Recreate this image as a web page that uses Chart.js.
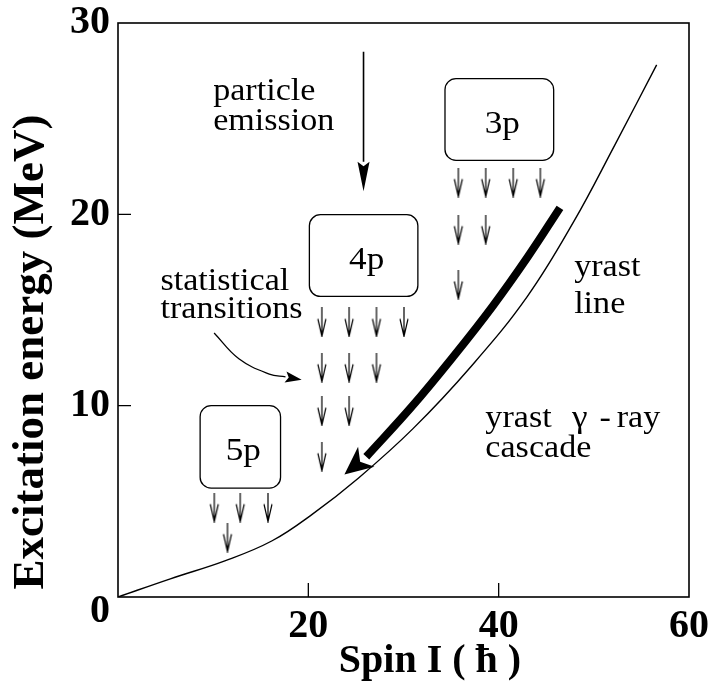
<!DOCTYPE html>
<html>
<head>
<meta charset="utf-8">
<script src="https://cdn.jsdelivr.net/npm/chart.js@4.4.1/dist/chart.umd.min.js"></script>
<style>
  html, body { margin: 0; padding: 0; background: #fff; }
  #wrap { width: 715px; height: 691px; }
</style>
</head>
<body>
<div id="wrap"><canvas id="c" width="715" height="691"></canvas></div>
<script>
// Axis ranges and ticks
const spinTicks = [0, 20, 40, 60];
const energyTicks = [0, 10, 20, 30];
const xTitle = 'Spin I ( \u0127 )';
const yTitle = 'Excitation energy (MeV)';

// Yrast line: lowest excitation energy for each spin
const yrastSpin   = [0, 5.5, 11.3, 16.2, 20.4, 25.25, 31, 37.1, 43, 47.9, 52.2, 56.6];
const yrastEnergy = [0, 0.95, 1.9, 2.94, 4.32, 6.21, 8.8, 12.05, 15.7, 19.63, 23.62, 27.81];

// Thick yrast gamma-ray cascade arrow (shaft points, then tip)
const cascadeSpin   = [46.44, 43.1, 39.34, 35.37, 30.89, 26.09];
const cascadeEnergy = [20.34, 17.81, 15.18, 12.65, 9.96, 7.33];
const cascadeTip    = [23.79, 6.4];

// Particle emission arrow (shaft, then tip)
const emissionSpin   = [25.8, 25.8];
const emissionEnergy = [28.5, 22.75];
const emissionTip    = [25.8, 21.2];

// Pointer from the "statistical transitions" label
const pointerSpin   = [10.1, 12.7, 15.9, 17.6];
const pointerEnergy = [13.8, 12.45, 11.65, 11.5];
const pointerTip    = [19.3, 11.35];

// Compound-nucleus boxes after emitting n particles
const boxLabels = ['5p', '4p', '3p'];
const boxLeft   = [8.63, 20.11, 34.36];
const boxRight  = [17.08, 31.51, 45.78];
const boxTop    = [10.0, 19.98, 27.09];
const boxBottom = [5.69, 15.71, 22.82];

// Small statistical gamma transitions (centre of each arrow)
const stepSpin = [
  10.12, 12.84, 15.76, 11.5,
  21.42, 24.28, 27.16, 30.05,
  21.42, 24.28, 27.16,
  21.42, 24.28,
  21.42,
  35.76, 38.64, 41.53, 44.38,
  35.76, 38.64,
  35.76
];
const stepEnergy = [
  4.67, 4.67, 4.67, 3.10,
  14.35, 14.35, 14.35, 14.35,
  11.98, 11.98, 11.98,
  9.71, 9.71,
  7.33,
  21.66, 21.66, 21.66, 21.66,
  19.2, 19.2,
  16.31
];

// Text annotations: [text, spin (left edge), energy (baseline)]
const notes = [
  ['particle', 10.0, 26.0],
  ['emission', 10.0, 24.42],
  ['statistical', 4.46, 16.06],
  ['transitions', 4.46, 14.56],
  ['yrast', 47.93, 16.8],
  ['line', 47.93, 14.82],
  ['yrast', 38.6, 8.88],
  ['-', 50.6, 8.88],
  ['ray', 52.4, 8.88],
  ['cascade', 38.6, 7.33]
];
const gammaNote = ['\u03b3', 47.7, 8.88];

const pts = (xs, ys) => xs.map((x, i) => ({ x: x, y: ys[i] }));

// Open "v"-headed arrow glyph used as a point style
function makeStepGlyph() {
  const g = document.createElement('canvas');
  g.width = 12; g.height = 30;
  const c = g.getContext('2d');
  c.strokeStyle = '#000';
  c.lineWidth = 1.2;
  c.beginPath();
  c.moveTo(6, 0); c.lineTo(6, 28.5);
  c.moveTo(2, 11.5); c.lineTo(6, 29); c.lineTo(10, 11.5);
  c.stroke();
  return g;
}

const SERIF = '"Liberation Serif", "Times New Roman", serif';
const WIDEN = 1.1;

function wideText(ctx, text, x, y, align) {
  ctx.save();
  ctx.translate(x, y);
  ctx.scale(WIDEN, 1);
  ctx.textAlign = align;
  ctx.fillText(text, 0, 0);
  ctx.restore();
}

function arrowHead(ctx, from, tip, halfW, notch) {
  const dx = tip.x - from.x, dy = tip.y - from.y;
  const len = Math.hypot(dx, dy);
  const ux = dx / len, uy = dy / len;
  const nx = -uy, ny = ux;
  ctx.beginPath();
  ctx.moveTo(tip.x, tip.y);
  ctx.lineTo(from.x + nx * halfW, from.y + ny * halfW);
  ctx.lineTo(tip.x - ux * len * notch, tip.y - uy * len * notch);
  ctx.lineTo(from.x - nx * halfW, from.y - ny * halfW);
  ctx.closePath();
  ctx.fill();
}

const decorPlugin = {
  id: 'decor',
  afterDatasetsDraw(chart) {
    const ctx = chart.ctx;
    const xs = chart.scales.x, ys = chart.scales.y;
    const area = chart.chartArea;
    const P = (x, y) => ({ x: xs.getPixelForValue(x), y: ys.getPixelForValue(y) });
    ctx.save();
    ctx.fillStyle = '#000';
    ctx.strokeStyle = '#000';
    ctx.textBaseline = 'alphabetic';

    // frame
    ctx.lineWidth = 1.6;
    ctx.strokeRect(area.left, area.top, area.right - area.left, area.bottom - area.top);

    // inward tick marks
    ctx.lineWidth = 1.3;
    ctx.beginPath();
    spinTicks.slice(1, -1).forEach(v => {
      const px = xs.getPixelForValue(v);
      ctx.moveTo(px, area.bottom); ctx.lineTo(px, area.bottom - 14);
    });
    energyTicks.slice(1, -1).forEach(v => {
      const py = ys.getPixelForValue(v);
      ctx.moveTo(area.left, py); ctx.lineTo(area.left + 13, py);
    });
    ctx.stroke();

    // boxes
    ctx.lineWidth = 1.3;
    ctx.font = '32px ' + SERIF;
    boxLabels.forEach((lab, i) => {
      const a = P(boxLeft[i], boxTop[i]);
      const b = P(boxRight[i], boxBottom[i]);
      ctx.beginPath();
      ctx.roundRect(a.x, a.y, b.x - a.x, b.y - a.y, 11);
      ctx.stroke();
      wideText(ctx, lab, (a.x + b.x) / 2 + 3, (a.y + b.y) / 2 + 13, 'center');
    });

    // arrow heads
    const cFrom = P(cascadeSpin[cascadeSpin.length - 1], cascadeEnergy[cascadeEnergy.length - 1]);
    arrowHead(ctx, cFrom, P(cascadeTip[0], cascadeTip[1]), 13, 0.72);
    const eFrom = P(emissionSpin[1], emissionEnergy[1]);
    arrowHead(ctx, eFrom, P(emissionTip[0], emissionTip[1]), 6, 0.85);
    const pFrom = P(pointerSpin[pointerSpin.length - 1], pointerEnergy[pointerEnergy.length - 1]);
    arrowHead(ctx, pFrom, P(pointerTip[0], pointerTip[1]), 5.5, 0.8);

    // annotations
    ctx.font = '31px ' + SERIF;
    notes.forEach(([t, x, y]) => {
      const p = P(x, y);
      wideText(ctx, t, p.x, p.y, 'left');
    });
    ctx.font = '32px ' + SERIF;
    const gp = P(gammaNote[1], gammaNote[2]);
    wideText(ctx, gammaNote[0], gp.x, gp.y, 'left');

    // axis titles
    ctx.font = 'bold 40px ' + SERIF;
    ctx.textAlign = 'center';
    ctx.fillText(xTitle, 430, 672);
    ctx.save();
    ctx.translate(43, 352);
    ctx.rotate(-Math.PI / 2);
    ctx.font = 'bold 45px ' + SERIF;
    ctx.fillText(yTitle, 0, 0);
    ctx.restore();

    ctx.restore();
  }
};

const lineStyle = { showLine: true, pointRadius: 0, borderColor: '#000', fill: false };

new Chart(document.getElementById('c'), {
  type: 'scatter',
  data: {
    datasets: [
      Object.assign({ label: 'yrast line', data: pts(yrastSpin, yrastEnergy), borderWidth: 1.4,
        tension: 0.4 }, lineStyle),
      Object.assign({ label: 'yrast cascade', data: pts(cascadeSpin, cascadeEnergy), borderWidth: 8,
        tension: 0.4, borderCapStyle: 'butt' }, lineStyle),
      Object.assign({ label: 'particle emission', data: pts(emissionSpin, emissionEnergy), borderWidth: 1.6 }, lineStyle),
      Object.assign({ label: 'pointer', data: pts(pointerSpin, pointerEnergy), borderWidth: 1.3,
        tension: 0.4 }, lineStyle),
      { label: 'statistical transitions', data: pts(stepSpin, stepEnergy), showLine: false,
        pointStyle: makeStepGlyph(), pointRadius: 6 }
    ]
  },
  options: {
    responsive: false,
    devicePixelRatio: 1,
    animation: false,
    events: [],
    layout: { padding: { top: 16, right: 21, left: 0, bottom: 0 }, autoPadding: false },
    plugins: { legend: { display: false }, tooltip: { enabled: false }, title: { display: false } },
    scales: {
      x: {
        type: 'linear', min: 0, max: 60,
        afterFit: s => { s.height = 94; },
        afterBuildTicks: s => { s.ticks = spinTicks.map(v => ({ value: v })); },
        grid: { display: false, drawTicks: false },
        border: { display: false },
        ticks: {
          autoSkip: false, maxRotation: 0, padding: 6, color: '#000',
          font: { family: SERIF, size: 40, weight: 'bold' },
          callback: v => (v === 0 ? '' : String(v))
        }
      },
      y: {
        type: 'linear', min: 0, max: 30,
        afterFit: s => { s.width = 118; },
        afterBuildTicks: s => { s.ticks = energyTicks.map(v => ({ value: v })); },
        grid: { display: false, drawTicks: false },
        border: { display: false },
        ticks: {
          autoSkip: false, padding: 8, color: '#000',
          font: { family: SERIF, size: 40, weight: 'bold', lineHeight: 0.75 },
          callback: v => (v === 0 ? ['', '0'] : String(v))
        }
      }
    }
  },
  plugins: [decorPlugin]
});
</script>
</body>
</html>
